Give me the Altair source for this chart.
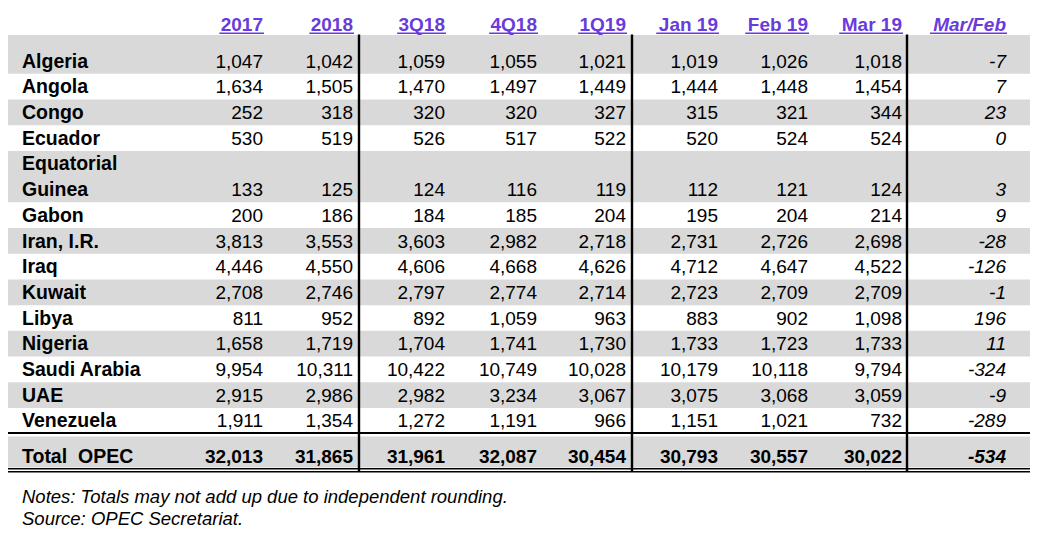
import altair as alt
import pandas as pd

# ---------------- data ----------------
countries = ["Algeria", "Angola", "Congo", "Ecuador", "Equatorial\nGuinea", "Gabon",
             "Iran, I.R.", "Iraq", "Kuwait", "Libya", "Nigeria", "Saudi Arabia",
             "UAE", "Venezuela"]
total_label = "Total  OPEC"
columns = ["2017", "2018", "3Q18", "4Q18", "1Q19", "Jan 19", "Feb 19", "Mar 19", "Mar/Feb"]

v2017 = [1047, 1634, 252, 530, 133, 200, 3813, 4446, 2708, 811, 1658, 9954, 2915, 1911, 32013]
v2018 = [1042, 1505, 318, 519, 125, 186, 3553, 4550, 2746, 952, 1719, 10311, 2986, 1354, 31865]
v3q18 = [1059, 1470, 320, 526, 124, 184, 3603, 4606, 2797, 892, 1704, 10422, 2982, 1272, 31961]
v4q18 = [1055, 1497, 320, 517, 116, 185, 2982, 4668, 2774, 1059, 1741, 10749, 3234, 1191, 32087]
v1q19 = [1021, 1449, 327, 522, 119, 204, 2718, 4626, 2714, 963, 1730, 10028, 3067, 966, 30454]
vjan19 = [1019, 1444, 315, 520, 112, 195, 2731, 4712, 2723, 883, 1733, 10179, 3075, 1151, 30793]
vfeb19 = [1026, 1448, 321, 524, 121, 204, 2726, 4647, 2709, 902, 1723, 10118, 3068, 1021, 30557]
vmar19 = [1018, 1454, 344, 524, 124, 214, 2698, 4522, 2709, 1098, 1733, 9794, 3059, 732, 30022]
vchange = [-7, 7, 23, 0, 3, 9, -28, -126, -1, 196, 11, -324, -9, -289, -534]

notes = ["Notes: Totals may not add up due to independent rounding.",
         "Source: OPEC Secretariat."]

series = [v2017, v2018, v3q18, v4q18, v1q19, vjan19, vfeb19, vmar19, vchange]

# ---------------- layout (image pixel coordinates) ----------------
FONT = "Liberation Sans"
FS = 19
LFS = 19.5
PURPLE = "#6A3BDB"
GREY = "#D9D9D9"
col_right = [263, 353, 445, 537, 626, 718, 808, 902, 1006]
sep_x = [359, 632, 907]
LEFT, RIGHT = 3, 1030
LINE0, STEP = 61.0, 25.7
CAP = 6.6
HEAD_BASE, UNDER_Y = 31.4, 33.3
TOP_BAND = 35.0
TOTAL_LINE_Y = 433.0
TOTAL_BAND = (436.5, 467.5)
TOTAL_BASE = 463.0
DOUBLE_Y = [468.8, 471.8]
NOTE_BASE = [502.5, 524.5]
NBSP = "\u00a0"

# Arial-bold advance widths (per 1000 em) for header underline lengths
bw = {"0": 556, "1": 556, "2": 556, "3": 556, "4": 556, "5": 556, "6": 556, "7": 556,
      "8": 556, "9": 556, "Q": 778, "J": 556, "a": 556, "n": 611, " ": 278, "F": 611,
      "e": 556, "b": 611, "M": 833, "r": 389, "/": 278}

def text_w(s):
    return sum(bw.get(c, 556) for c in s) * FS / 1000 + 0.6 * len(s)

# ---------------- build tables ----------------
label_rows, value_rows, band_rows = [], [], []
line = 0
for i, name in enumerate(countries):
    parts = name.split("\n")
    first = line
    for p in parts:
        label_rows.append({"x": 22, "y": LINE0 + STEP * line + CAP, "t": p})
        line += 1
    last = line - 1
    c_last = LINE0 + STEP * last
    for j, col in enumerate(columns):
        value_rows.append({"x": col_right[j], "y": c_last + CAP, "t": f"{series[j][i]:,}",
                           "italic": col == "Mar/Feb"})
    if i % 2 == 0:
        top = TOP_BAND if i == 0 else LINE0 + STEP * first - STEP / 2
        band_rows.append({"x": LEFT, "x2": RIGHT, "y": top, "y2": LINE0 + STEP * last + STEP / 2})

band_rows.append({"x": LEFT, "x2": RIGHT, "y": TOTAL_BAND[0], "y2": TOTAL_BAND[1]})
label_rows.append({"x": 22, "y": TOTAL_BASE, "t": total_label.replace(" ", NBSP)})
total_rows = [{"x": col_right[j], "y": TOTAL_BASE, "t": f"{series[j][-1]:,}",
               "italic": col == "Mar/Feb"} for j, col in enumerate(columns)]

head_rows = [{"x": col_right[j], "y": HEAD_BASE, "t": col.replace(" ", NBSP), "italic": col == "Mar/Feb"}
             for j, col in enumerate(columns)]
under_rows = [{"x": col_right[j] + 1 - text_w(col), "x2": col_right[j] + 1, "y": UNDER_Y, "w": 1.6}
              for j, col in enumerate(columns)]

hrules = [{"x": LEFT, "x2": RIGHT, "y": TOTAL_LINE_Y, "w": 2.2}] + \
         [{"x": LEFT, "x2": RIGHT, "y": yy, "w": 1.5} for yy in DOUBLE_Y]
vrules = [{"x": sx, "y": 34.5, "y2": 472.0, "w": 2.4} for sx in sep_x]
note_rows = [{"x": 22, "y": NOTE_BASE[k], "t": n} for k, n in enumerate(notes)]

df = lambda rows: pd.DataFrame(rows)

xs = alt.Scale(domain=[0, 1038], range=[-8, 1030])
ys = alt.Scale(domain=[0, 536], range=[-8, 528])
X = alt.X("x:Q", scale=xs, axis=None)
Y = alt.Y("y:Q", scale=ys, axis=None)

bands = alt.Chart(df(band_rows)).mark_rect(color=GREY).encode(
    x=X, x2="x2:Q", y=Y, y2="y2:Q")

hr = alt.Chart(df(hrules)).mark_rule(color="black").encode(
    x=X, x2="x2:Q", y=Y, strokeWidth=alt.StrokeWidth("w:Q", scale=None))
vr = alt.Chart(df(vrules)).mark_rule(color="black").encode(
    x=X, y=Y, y2="y2:Q", strokeWidth=alt.StrokeWidth("w:Q", scale=None))
ur = alt.Chart(df(under_rows)).mark_rule(color=PURPLE).encode(
    x=X, x2="x2:Q", y=Y, strokeWidth=alt.StrokeWidth("w:Q", scale=None))

def txt(rows, align="right", weight="normal", style="normal", color="black", size=FS):
    return alt.Chart(df(rows)).mark_text(
        align=align, baseline="alphabetic", font=FONT, fontSize=size,
        fontWeight=weight, fontStyle=style, color=color).encode(x=X, y=Y, text="t:N")

vals_plain = [r for r in value_rows if not r["italic"]]
vals_ital = [r for r in value_rows if r["italic"]]
tot_plain = [r for r in total_rows if not r["italic"]]
tot_ital = [r for r in total_rows if r["italic"]]
head_plain = [r for r in head_rows if not r["italic"]]
head_ital = [r for r in head_rows if r["italic"]]

chart = alt.layer(
    bands,
    hr, vr, ur,
    txt(label_rows, align="left", weight="bold", size=LFS),
    txt(vals_plain),
    txt(vals_ital, style="italic"),
    txt(tot_plain, weight="bold"),
    txt(tot_ital, weight="bold", style="italic"),
    txt(head_plain, weight="bold", color=PURPLE),
    txt(head_ital, weight="bold", style="italic", color=PURPLE),
    txt(note_rows, align="left", style="italic", size=18.5),
).properties(
    width=1022, height=520, padding=0, autosize=alt.AutoSizeParams(type="none")
).configure_view(stroke=None, strokeWidth=0)

chart.save("out.html", embed_options={"renderer": "svg", "actions": False})
